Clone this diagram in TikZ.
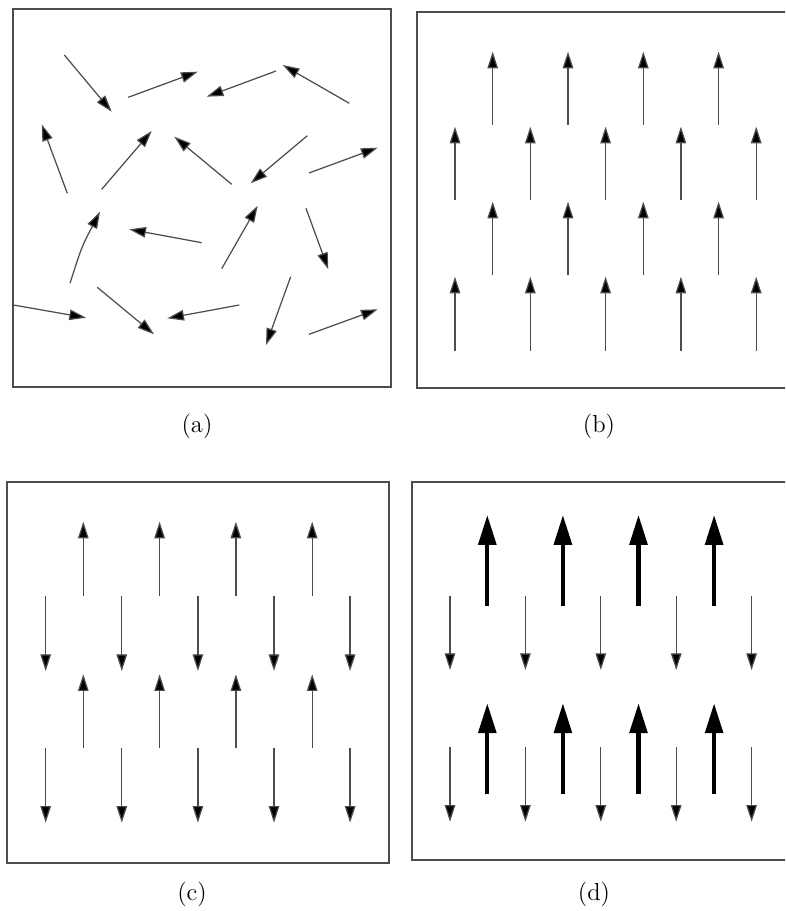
\documentclass[tikz,border=0pt]{standalone}
\usepackage{tikz}
\usetikzlibrary{arrows.meta}

\begin{document}
\begin{tikzpicture}[
    x=0.02cm, y=-0.02cm,
    frame/.style={draw=black!70, line width=1.1pt},
    spin/.style={draw=black!70, line width=0.7pt, -{Triangle[length=9.5pt,width=6pt,fill=black]}},
    bigspin/.style={draw=black, line width=2.4pt, -{Triangle[length=17pt,width=10pt]}},
    caption/.style={font=\fontsize{14}{16}\selectfont}
]
    \clip (0,0) rectangle (785,911);

    % frames
    \draw[frame] (13,9) rectangle (391,387);
    \draw[frame] (417,12) rectangle (795,388);
    \draw[frame] (7,482) rectangle (389,863);
    \draw[frame] (412,482) rectangle (795,860);

    % (a) disordered
    \foreach \xa/\ya/\xb/\yb in {
        64.3/55/111.7/111.7, 128.3/97.3/197.7/71.7, 276/71/206.7/96.7,
        349.3/103.3/282.7/65, 67.3/193.3/41.7/124.3, 101.7/189.3/151.7/131,
        231.7/184.3/174.3/136.7, 307.3/135.7/250.7/183.3, 309/173/377.7/147.7,
        201.7/242.7/129.3/229.3, 221.7/268.7/257.7/205.7, 306/208.3/328.3/269.3,
        13.3/305/86/317.7, 97.3/287.3/154/334.3, 239.3/305/167.3/318.3,
        290.7/276.7/266/345, 309/334.3/377.7/309.3}
        \draw[spin] (\xa,\ya) -- (\xb,\yb);
    \draw[spin] (70,283.3) .. controls (81.7,246.7) .. (100,211.7);

    % (b) ferromagnet
    \foreach \k in {0,...,3} {
        \draw[spin] (492.7+75.3*\k,125) -- ++(0,-73.3);
        \draw[spin] (492.7+75.3*\k,275) -- ++(0,-73.3);
    }
    \foreach \k in {0,...,4} {
        \draw[spin] (455+75.3*\k,200) -- ++(0,-73.3);
        \draw[spin] (455+75.3*\k,350.7) -- ++(0,-74);
    }

    % (c) antiferromagnet
    \foreach \k in {0,...,3} {
        \draw[spin] (83.3+76.3*\k,596) -- ++(0,-74.3);
        \draw[spin] (83.3+76.3*\k,748.3) -- ++(0,-74);
    }
    \foreach \k in {0,...,4} {
        \draw[spin] (45.7+76.1*\k,596) -- ++(0,75);
        \draw[spin] (45.7+76.1*\k,748.3) -- ++(0,74.4);
    }

    % (d) ferrimagnet
    \foreach \k in {0,...,3} {
        \draw[bigspin] (487.3+75.6*\k,605.7) -- ++(0,-90.7);
        \draw[bigspin] (487.3+75.6*\k,794.3) -- ++(0,-91);
    }
    \foreach \k in {0,...,4} {
        \draw[spin] (450+75.4*\k,596) -- ++(0,74);
        \draw[spin] (450+75.4*\k,746.7) -- ++(0,75);
    }

    \node[caption] (capa) at (197,426) {(a)};
    \node[caption] (capb) at (599,426) {(b)};
    \node[caption] (capc) at (192,894) {(c)};
    \node[caption] (capd) at (594,894) {(d)};
\end{tikzpicture}
\end{document}
